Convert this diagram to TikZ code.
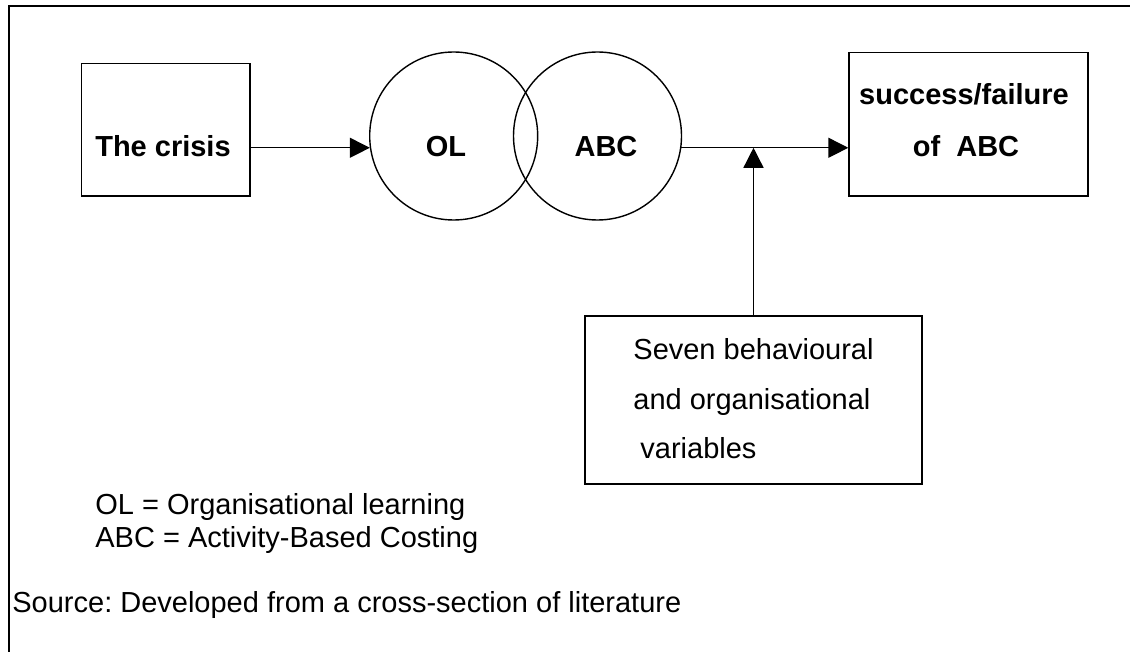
\documentclass[tikz,border=0pt]{standalone}
\usepackage{fontspec}
\setmainfont{Liberation Sans}
\usetikzlibrary{arrows.meta}
\frenchspacing

\tikzset{
  frameline/.style={line width=0.8pt},
  boxshape/.style={draw, line width=0.7pt, rectangle, inner sep=0pt},
  ring/.style={draw, line width=0.7pt, circle, inner sep=0pt, minimum size=84pt},
  boldtxt/.style={font=\fontsize{14.5pt}{17pt}\selectfont\bfseries, inner sep=0pt, anchor=base},
  plaintxt/.style={font=\fontsize{14.5pt}{17pt}\selectfont, inner sep=0pt, anchor=base west},
  arr/.style={line width=0.7pt, -{Triangle[length=10pt,width=10pt]}}
}

\begin{document}
\begin{tikzpicture}[x=0.5pt,y=-0.5pt]
  \useasboundingbox (0,0) rectangle (1130,652);
  \fill[white] (0,0) rectangle (1130,652);

  % outer frame: only the top and left edges are visible
  \draw[frameline] (9,652) -- (9,6) -- (1130,6);

  % boxes
  \node[boxshape, minimum width=84.25pt, minimum height=66.25pt] (crisis) at (165.75,129.75) {};
  \node[boxshape, minimum width=119.5pt, minimum height=71.75pt] (success) at (968.5,124.25) {};
  \node[boxshape, minimum width=168.5pt, minimum height=84pt] (vars) at (753.5,400) {};

  % overlapping circles
  \node[ring] (OL) at (453.7,136) {};
  \node[ring] (ABC) at (597.5,136) {};

  % labels
  \node[boldtxt] (crisistxt) at (163,157) {The crisis};
  \node[boldtxt] (oltxt) at (446,157) {OL};
  \node[boldtxt] (abctxt) at (606,157) {ABC};
  \node[boldtxt] (succtxt) at (964,105) {success/failure};
  \node[boldtxt] (oftxt) at (966,157) {of\ \ ABC};

  \node[plaintxt] (v1) at (633,359) {Seven behavioural};
  \node[plaintxt] (v2) at (633,409) {and organisational};
  \node[plaintxt] (v3) at (640,458) {variables};

  \node[plaintxt] (leg1) at (95,514) {OL = Organisational learning};
  \node[plaintxt] (leg2) at (95,547) {ABC = Activity-Based Costing};
  \node[plaintxt] (src) at (12,612) {Source: Developed from a cross-section of literature};

  % connectors
  \draw[arr] (OL.188 -| crisis.east) -- (OL.188);
  \draw[arr] (ABC.-8.2) -- (ABC.-8.2 -| success.west);
  \draw[arr] (vars.north) -- (vars.north |- ABC.-8.2);
\end{tikzpicture}
\end{document}
